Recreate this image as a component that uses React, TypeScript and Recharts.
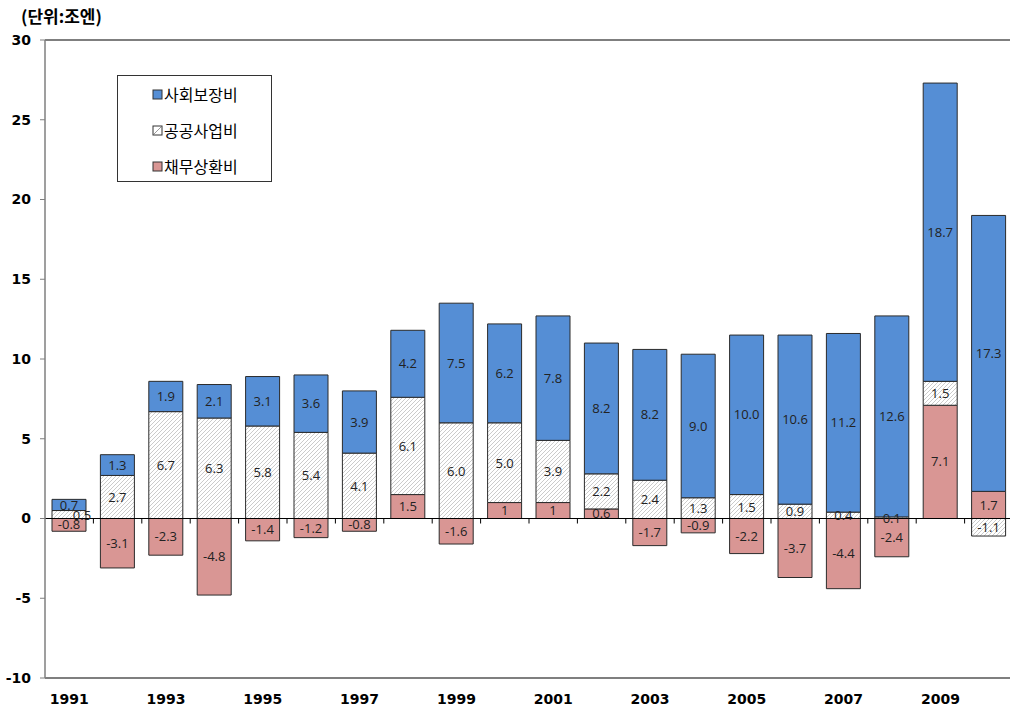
import React from 'react';
import { BarChart, Bar, XAxis, YAxis, ReferenceLine, LabelList } from 'recharts';

const years = ['1991','1992','1993','1994','1995','1996','1997','1998','1999','2000','2001','2002','2003','2004','2005','2006','2007','2008','2009','2010'];
const socialSecurity = [0.7,1.3,1.9,2.1,3.1,3.6,3.9,4.2,7.5,6.2,7.8,8.2,8.2,9.0,10.0,10.6,11.2,12.6,18.7,17.3];
const publicWorks = [0.5,2.7,6.7,6.3,5.8,5.4,4.1,6.1,6.0,5.0,3.9,2.2,2.4,1.3,1.5,0.9,0.4,0.1,1.5,-1.1];
const debtRepayment = [-0.8,-3.1,-2.3,-4.8,-1.4,-1.2,-0.8,1.5,-1.6,1,1,0.6,-1.7,-0.9,-2.2,-3.7,-4.4,-2.4,7.1,1.7];
const socialLabels = ['0.7','1.3','1.9','2.1','3.1','3.6','3.9','4.2','7.5','6.2','7.8','8.2','8.2','9.0','10.0','10.6','11.2','12.6','18.7','17.3'];
const publicLabels = ['0.5','2.7','6.7','6.3','5.8','5.4','4.1','6.1','6.0','5.0','3.9','2.2','2.4','1.3','1.5','0.9','0.4','0.1','1.5','-1.1'];
const debtLabels = ['-0.8','-3.1','-2.3','-4.8','-1.4','-1.2','-0.8','1.5','-1.6','1','1','0.6','-1.7','-0.9','-2.2','-3.7','-4.4','-2.4','7.1','1.7'];
const seriesNames = ['사회보장비', '공공사업비', '채무상환비'];
const yTicks = [-10, -5, 0, 5, 10, 15, 20, 25, 30];
const unitTitle = '(단위:조엔)';

const data = years.map((y, i) => ({
  year: y,
  debt: debtRepayment[i],
  pub: publicWorks[i],
  social: socialSecurity[i],
  debtLabel: debtLabels[i],
  pubLabel: publicLabels[i],
  socialLabel: socialLabels[i],
}));

const BLUE = '#558ED5';
const PINK = '#D99694';
const STROKE = '#2b2b2b';
const KR = '"Noto Sans CJK KR", "Noto Sans", sans-serif';
const NUM = '"Open Sans", "Noto Sans", sans-serif';

const ZeroLine = (props: any) => {
  const { x1, y1, x2 } = props;
  const n = years.length;
  const step = (x2 - x1) / n;
  const ticks = [];
  for (let i = 1; i <= n; i++) {
    const x = x1 + i * step;
    ticks.push(<line key={i} x1={x} y1={y1} x2={x} y2={y1 + 5} stroke="#000" strokeWidth={1} />);
  }
  return (
    <g>
      <line x1={x1 - 5} y1={y1} x2={x2} y2={y1} stroke="#000" strokeWidth={1} />
      {ticks}
    </g>
  );
};

const PubLabel = (props: any) => {
  const { x, y, width, height, value, index } = props;
  const tiny = Math.abs(height) < 10 && index === 0;
  const cx = x + width / 2 + (tiny ? 13 : 0);
  const cy = y + height / 2;
  return (
    <text x={cx} y={cy} textAnchor="middle" dominantBaseline="central" fill="#222" fontSize={13} fontFamily={NUM}>
      {value}
    </text>
  );
};

const LegendBox = () => {
  const fills = [BLUE, '#fff', PINK];
  return (
    <div style={{ position: 'absolute', left: 117, top: 75, border: '1px solid #333', width: 155, height: 107, boxSizing: 'border-box', background: '#fff' }}>
      {seriesNames.map((n, i) => (
        <div key={n} style={{ display: 'flex', alignItems: 'center', height: 36, paddingLeft: 34, fontFamily: KR, fontSize: 16, color: '#000', lineHeight: '36px' }}>
          <svg width={11} height={11} style={{ marginRight: 1 }}>
            <rect x={1} y={1} width={9} height={9} fill={fills[i]} stroke="#333" strokeWidth={1} />
            {i === 1 ? <line x1={2} y1={9} x2={9} y2={2} stroke="#999" strokeWidth={1} /> : null}
          </svg>
          <span>{n}</span>
        </div>
      ))}
    </div>
  );
};

export default function App() {
  return (
    <div style={{ position: 'absolute', left: 0, top: 0, width: 1010, height: 711, overflow: 'hidden', background: '#fff' }}>
      <BarChart
        width={1013}
        height={711}
        data={data}
        stackOffset="sign"
        margin={{ top: 40, right: 0, bottom: 3, left: 0 }}
        barSize={34}
      >
        <defs>
          <pattern id="hatch" patternUnits="userSpaceOnUse" width={4} height={4}>
            <rect x={0} y={0} width={4} height={4} fill="#fff" />
            <path d="M-1,1 L1,-1 M0,4 L4,0 M3,5 L5,3" stroke="#b5b5b5" strokeWidth={0.7} />
          </pattern>
        </defs>
        <XAxis
          dataKey="year"
          interval={1}
          axisLine={false}
          tickLine={false}
          tickSize={0}
          tickMargin={16}
          height={30}
          tick={{ fill: '#000', fontSize: 14, fontWeight: 700, fontFamily: 'Verdana, "DejaVu Sans", sans-serif' }}
        />
        <YAxis
          domain={[-10, 30]}
          ticks={yTicks}
          interval={0}
          width={45}
          tickSize={5}
          tickMargin={9}
          axisLine={{ stroke: '#7f7f7f', strokeWidth: 1.5 }}
          tickLine={{ stroke: '#7f7f7f' }}
          tick={{ fill: '#000', fontSize: 14, fontWeight: 700, fontFamily: 'Verdana, "DejaVu Sans", sans-serif' }}
          allowDataOverflow
        />
        <ReferenceLine y={30} stroke="#555" strokeWidth={1.5} ifOverflow="extendDomain" />
        <ReferenceLine y={-10} stroke="#555" strokeWidth={1.5} ifOverflow="extendDomain" />
        <Bar dataKey="debt" stackId="s" fill={PINK} stroke={STROKE} strokeWidth={1} isAnimationActive={false} name={seriesNames[2]}>
          <LabelList dataKey="debtLabel" position="center" fill="#222" fontSize={13} fontFamily={NUM} />
        </Bar>
        <Bar dataKey="pub" stackId="s" fill="url(#hatch)" stroke={STROKE} strokeWidth={1} isAnimationActive={false} name={seriesNames[1]}>
          <LabelList dataKey="pubLabel" content={<PubLabel />} />
        </Bar>
        <Bar dataKey="social" stackId="s" fill={BLUE} stroke={STROKE} strokeWidth={1} isAnimationActive={false} name={seriesNames[0]}>
          <LabelList dataKey="socialLabel" position="center" fill="#222" fontSize={13} fontFamily={NUM} />
        </Bar>
        <ReferenceLine y={0} shape={<ZeroLine />} ifOverflow="extendDomain" />
      </BarChart>
      <div style={{ position: 'absolute', left: 21, top: 3, fontFamily: KR, fontWeight: 700, fontSize: 17, color: '#000' }}>{unitTitle}</div>
      <LegendBox />
    </div>
  );
}
